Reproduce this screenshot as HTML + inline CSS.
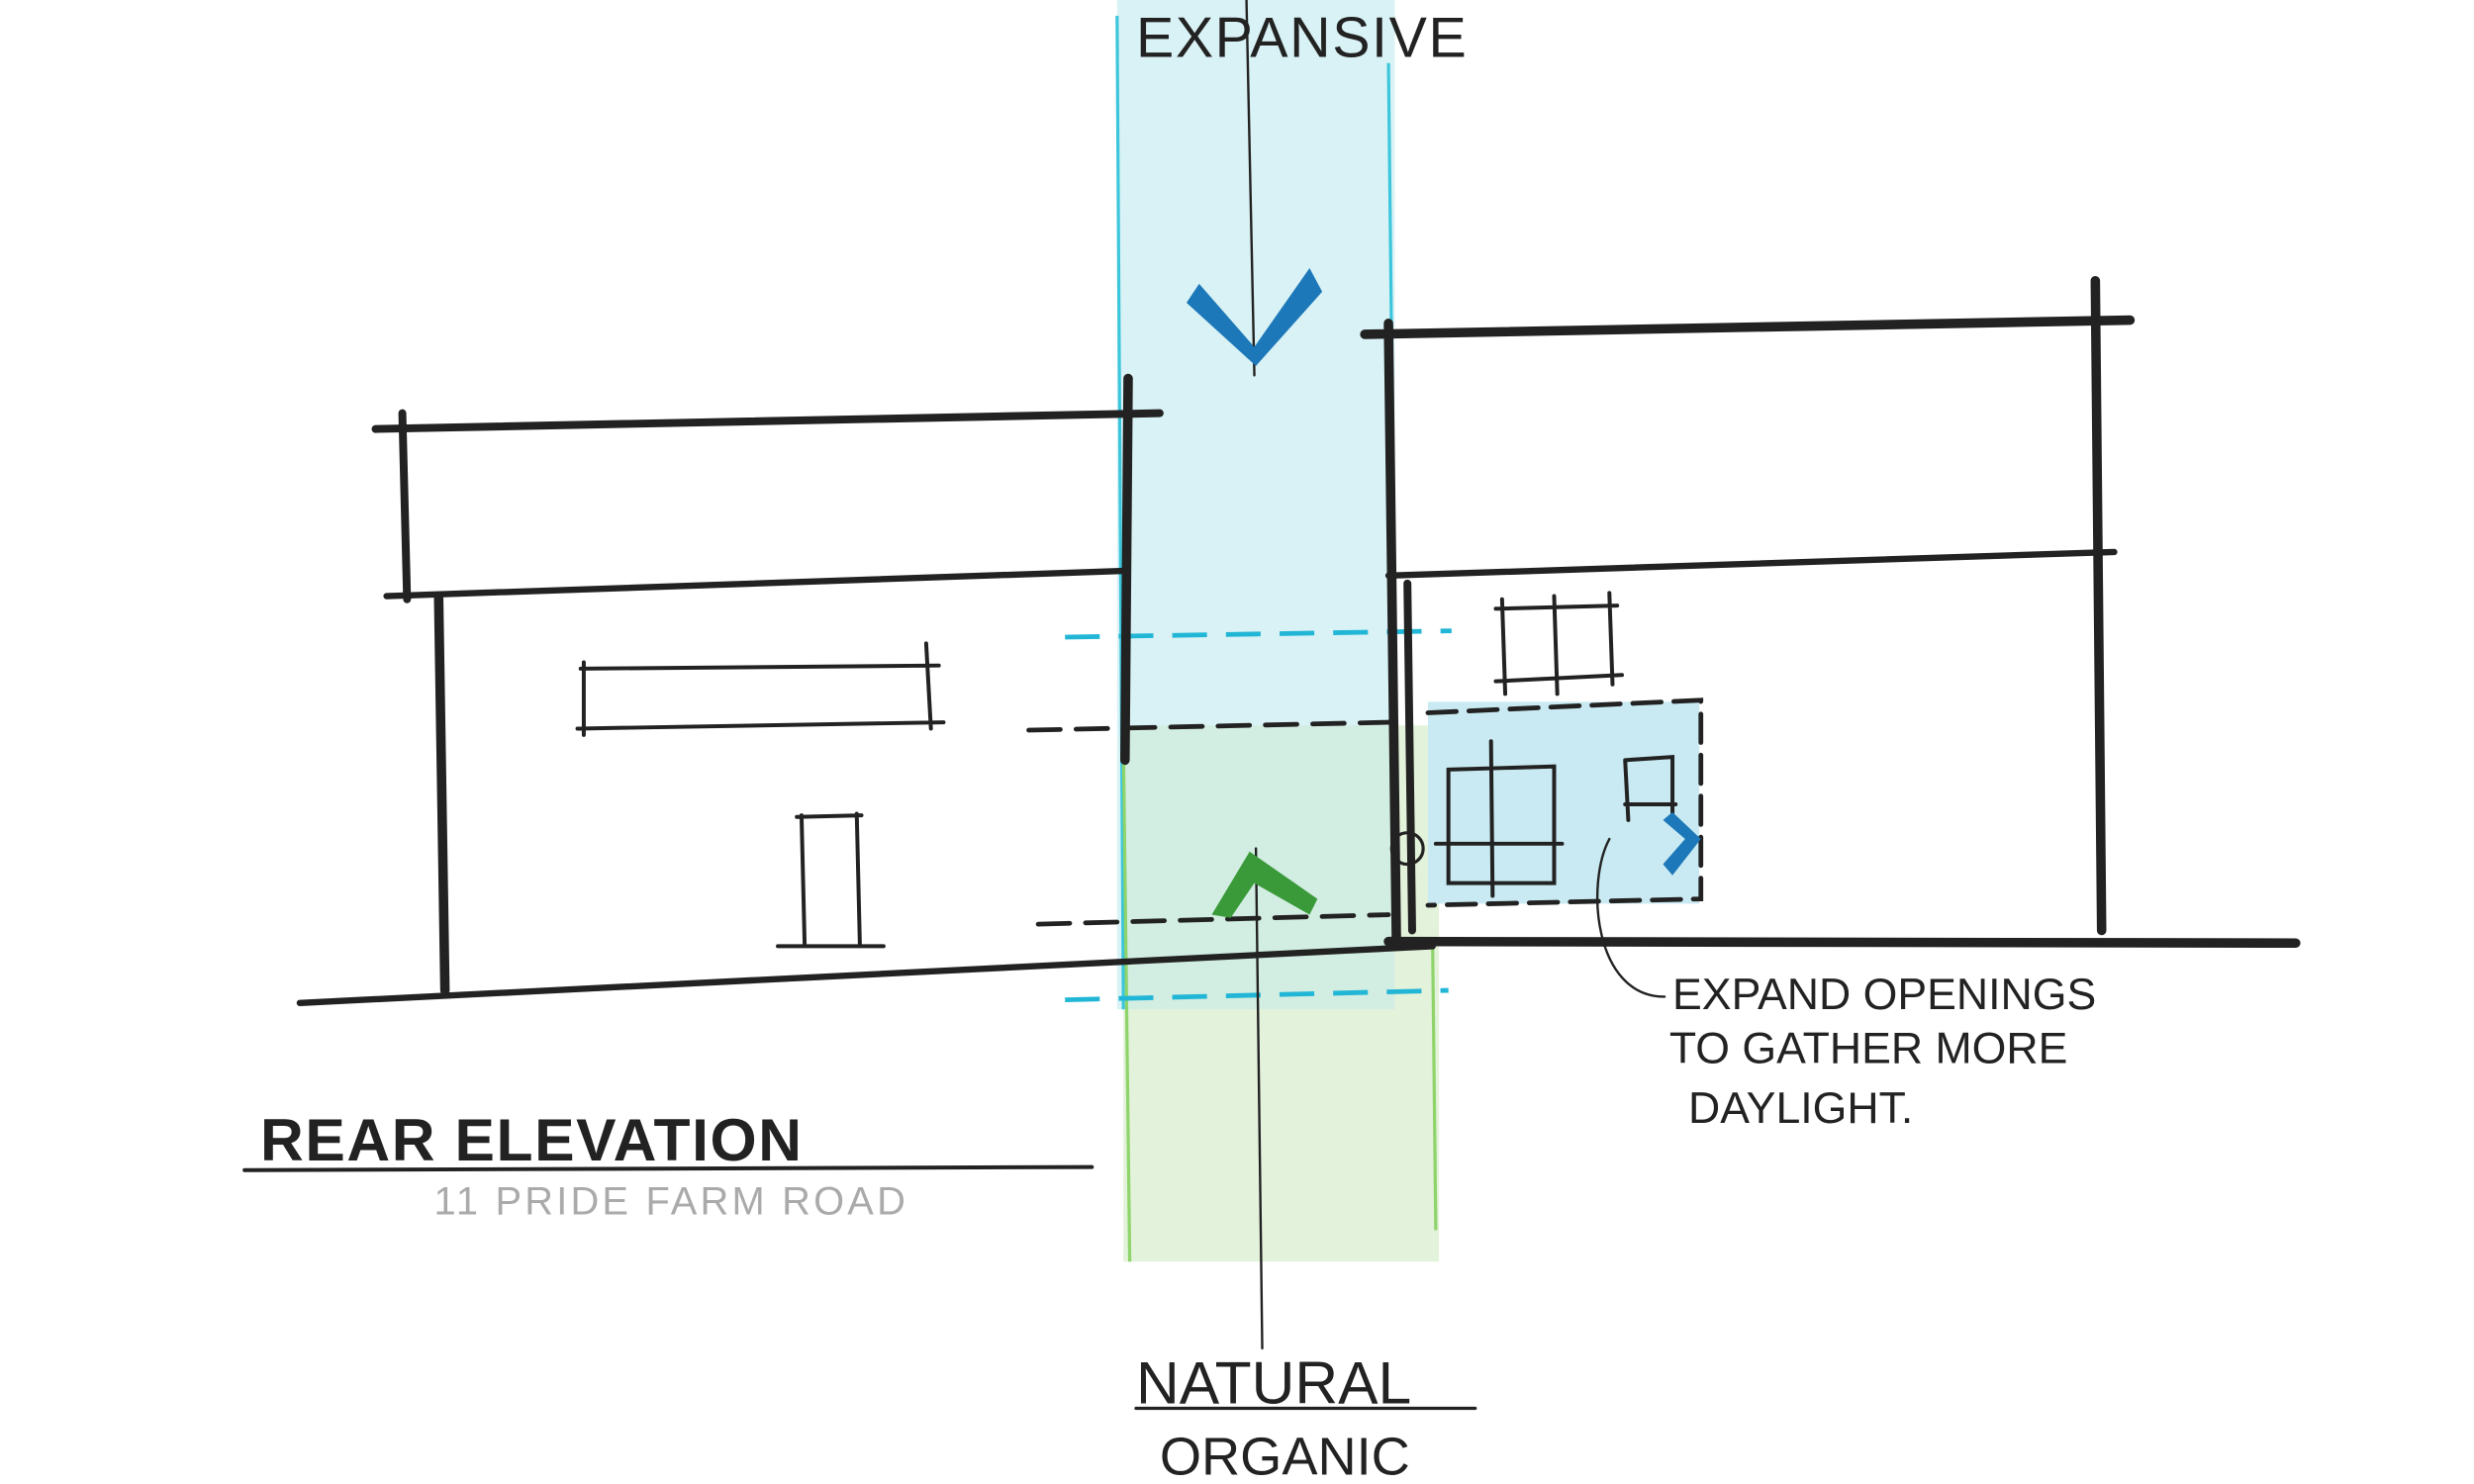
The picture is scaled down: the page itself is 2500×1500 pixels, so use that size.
<!DOCTYPE html>
<html><head><meta charset="utf-8"><style>
html,body{margin:0;padding:0;background:#fff;}
svg{display:block;}
text{font-family:"Liberation Sans",sans-serif;fill:#222;}
</style></head><body>
<svg width="2500" height="1500" viewBox="0 0 1568 941" preserveAspectRatio="none" xmlns="http://www.w3.org/2000/svg">
<rect width="1568" height="941" fill="#fff"/>
<!-- color bands -->
<rect x="708" y="0" width="176" height="640" fill="#d9f2f5"/>
<rect x="712" y="460" width="200" height="340" fill="#e3f2da"/>
<rect x="712" y="460" width="172" height="180" fill="#d2ede2"/>
<line x1="708" y1="10" x2="712" y2="640" stroke="#3cc6dc" stroke-width="2"/>
<line x1="880" y1="40" x2="884" y2="400" stroke="#3cc6dc" stroke-width="2"/>
<line x1="712" y1="470" x2="716" y2="800" stroke="#8ed46a" stroke-width="2"/>
<line x1="908" y1="600" x2="910" y2="780" stroke="#8ed46a" stroke-width="2"/>
<rect x="905" y="445" width="172" height="128" fill="#c9eaf2"/>
<!-- cyan dashed -->
<line x1="675" y1="404" x2="920" y2="400" stroke="#22b6d6" stroke-width="3" stroke-dasharray="22 12"/>
<line x1="675" y1="634" x2="918" y2="628" stroke="#22b6d6" stroke-width="3" stroke-dasharray="22 12"/>
<g stroke="#222" fill="none" stroke-linecap="round">
<line x1="238" y1="272" x2="735" y2="262" stroke-width="5"/>
<line x1="255" y1="262" x2="258" y2="380" stroke-width="5"/>
<line x1="245" y1="378" x2="712" y2="362" stroke-width="4"/>
<line x1="278" y1="378" x2="282" y2="628" stroke-width="6"/>
<line x1="715" y1="240" x2="713" y2="482" stroke-width="6"/>
<line x1="190" y1="636" x2="908" y2="600" stroke-width="4"/>
<path d="M368 424 L595 422 M366 462 L598 458 M370 420 L370 466 M587 408 L590 462" stroke-width="2.5"/>
<path d="M508 517 L510 600 M543 516 L545 600 M505 518 L546 517 M493 600 L560 600" stroke-width="2.5"/>
<line x1="865" y1="212" x2="1350" y2="203" stroke-width="6"/>
<line x1="880" y1="205" x2="885" y2="595" stroke-width="6"/>
<line x1="1328" y1="178" x2="1332" y2="590" stroke-width="6"/>
<line x1="880" y1="365" x2="1340" y2="350" stroke-width="4"/>
<line x1="880" y1="597" x2="1455" y2="598" stroke-width="6"/>
<line x1="892" y1="370" x2="895" y2="590" stroke-width="5"/>
<path d="M952 380 L954 440 M985 378 L987 440 M1020 376 L1022 434 M948 386 L1025 384 M948 432 L1028 428" stroke-width="2.5"/>
<path d="M905 452 L1078 444 L1078 570 L905 574" stroke-width="3" stroke-dasharray="18 8"/>
<path d="M918 488 L985 486 L985 560 L918 560 Z M945 470 L946 568 M910 535 L990 535" stroke-width="2.5"/>
<path d="M1030 482 L1060 480 L1060 520 M1030 482 L1032 520 M1030 510 L1062 510" stroke-width="2.5"/>
<circle cx="892" cy="538" r="10" stroke-width="2"/>
<line x1="652" y1="463" x2="880" y2="458" stroke-width="3" stroke-dasharray="20 10"/>
<line x1="658" y1="586" x2="880" y2="580" stroke-width="3" stroke-dasharray="20 10"/>
<line x1="790" y1="0" x2="795" y2="238" stroke-width="1.5"/>
<line x1="796" y1="538" x2="800" y2="855" stroke-width="1.5"/>
<path d="M1020 532 C1005 560 1010 632 1055 632" stroke-width="1.5"/>
<line x1="155" y1="742" x2="692" y2="740" stroke-width="2.5"/>
<line x1="720" y1="893" x2="935" y2="893" stroke-width="2"/>
</g>
<path d="M760 180 L795 220 L830 170 L838 185 L796 232 L752 192 Z" fill="#1c78b8"/>
<path d="M1060 515 L1078 532 L1060 555 L1054 548 L1068 532 L1054 520 Z" fill="#1c78b8"/>
<path d="M768 580 L792 540 L835 570 L830 580 L795 560 L780 582 Z" fill="#3a9a3a"/>
<text x="720" y="36" font-size="36" letter-spacing="1">EXPANSIVE</text>
<text x="165" y="736" font-size="38" font-weight="bold" letter-spacing="1">REAR ELEVATION</text>
<text x="275" y="770" font-size="25" style="fill:#aaa" letter-spacing="2">11 PRIDE FARM ROAD</text>
<text x="1060" y="640" font-size="28">EXPAND OPENINGS</text>
<text x="1058" y="674" font-size="28">TO GATHER MORE</text>
<text x="1070" y="712" font-size="28">DAYLIGHT.</text>
<text x="720" y="890" font-size="38">NATURAL</text>
<text x="735" y="935" font-size="34">ORGANIC</text>
</svg>
</body></html>
